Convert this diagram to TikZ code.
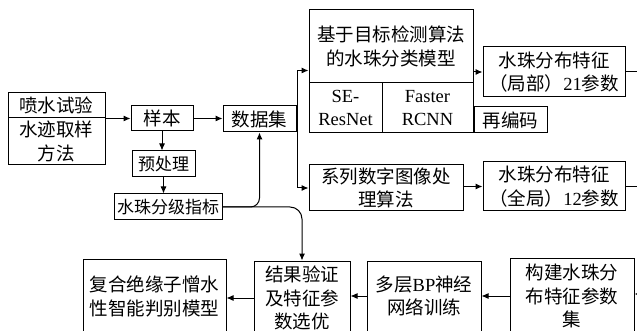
\documentclass[tikz,border=0pt]{standalone}
\usepackage{fontspec}
\setmainfont{Liberation Serif}
\newfontfamily\cjk{Noto Sans CJK SC}
\usetikzlibrary{arrows.meta}
\newcommand{\la}[1]{{\rmfamily #1}}
\newcommand{\bx}[7][]{\node[box,#1,minimum width={#4-#2},minimum height={#5-#3}] (#6) at ({(#2+#4)/2},{(#3+#5)/2}) {#7};}
\begin{document}
\begin{tikzpicture}[x=1pt,y=-1pt,
  box/.style={draw, line width=1pt, inner sep=0pt, align=center, font=\cjk\fontsize{18.5}{23.5}\selectfont},
  small/.style={font=\cjk\fontsize{17}{21}\selectfont},
  arr/.style={-{Latex[length=7pt,width=6pt]}, line width=1pt},
  ln/.style={line width=1pt}]
\useasboundingbox (0,0) rectangle (637,331);
\clip (0,0) rectangle (637,331);
\bx{8}{93}{105}{118}{pa}{喷水试验}
\bx{8}{118}{105}{165}{pb}{水迹取样\\方法}
\bx{131}{106}{193}{131}{yb}{样本}
\bx{223}{106}{296}{132}{sjj}{数据集}
\bx[small]{132}{151}{195}{177}{ycl}{预处理}
\bx[small]{114}{194}{222}{220}{sz}{水珠分级指标}
\bx{309}{10}{473}{83}{jy}{基于目标检测算法\\的水珠分类模型}
\bx{309}{83}{382}{133}{se}{\la{SE-}\\\la{ResNet}}
\bx{382}{83}{473}{133}{fr}{\la{Faster}\\\la{RCNN}}
\bx{483}{47}{625}{97}{fa}{水珠分布特征\\（局部）\la{21}参数}
\bx{474}{107}{547}{133}{zb}{再编码}
\bx{309}{165}{463}{211}{xl}{系列数字图像处\\理算法}
\bx{483}{162}{625}{211}{fb}{水珠分布特征\\（全局）\la{12}参数}
\bx{510}{258}{634}{334}{gj}{构建水珠分\\布特征参数\\集}
\bx{367}{261}{481}{331}{dc}{多层\la{BP}神经\\网络训练}
\bx{254}{261}{350}{335}{jg}{结果验证\\及特征参\\数选优}
\bx{83}{259}{226}{334}{fh}{复合绝缘子憎水\\性智能判别模型}
\coordinate (sp) at (297,119);
\coordinate (r1) at (637,72);
\coordinate (r2) at (637,186.5);
\coordinate (r3) at (637,294);
\draw[arr] (pa.south east) -- (pa.south east -| yb.west);
\draw[arr] (yb.east) -- (yb.east -| sjj.west);
\draw[ln] (sjj.east) -- (sp);
\draw[arr] (sp) |- ([yshift=13pt]jy.south west);
\draw[arr] (sp) |- (xl.west);
\draw[arr] (yb.south) -- (yb.south |- ycl.north);
\draw[arr] (ycl.south) -- (ycl.south |- sz.north);
\draw[arr, rounded corners=9pt] (sz.east) -| (sjj.south);
\draw[arr, rounded corners=12pt] (sz.east) -| (jg.north);
\draw[arr] (fa.west -| jy.east) -- (fa.west);
\draw[ln] (fa.east) -- (r1);
\draw[arr] (fb.west -| xl.east) -- (fb.west);
\draw[ln] (fb.east) -- (r2);
\draw[arr] (r3) -- (gj.east |- r3);
\draw[arr] (gj.west) -- (gj.west -| dc.east);
\draw[arr] (dc.west) -- (dc.west -| jg.east);
\draw[arr] (jg.west) -- (jg.west -| fh.east);
\end{tikzpicture}
\end{document}
